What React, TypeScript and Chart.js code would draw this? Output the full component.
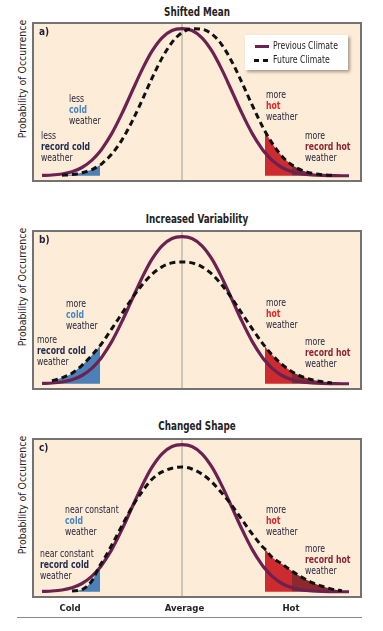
import React, { useEffect, useRef } from 'react';
import { Chart, registerables } from 'chart.js';

Chart.register(...registerables);

// ---------- data (x: temperature offset from the average; y: relative probability) ----------
const xGrid = [-14, -13, -12, -11, -10, -9, -8.2, -8, -7, -6, -5, -4, -3, -2, -1, 0, 1, 2, 3, 4, 5, 6, 7, 8, 8.3, 9, 10, 11, 12, 13, 14, 15, 16, 16.7];

const previousClimate = [0.002, 0.005, 0.012, 0.027, 0.056, 0.106, 0.165, 0.183, 0.29, 0.424, 0.573, 0.72, 0.847, 0.938, 0.988, 1.0, 0.988, 0.938, 0.847, 0.72, 0.573, 0.424, 0.29, 0.183, 0.157, 0.106, 0.056, 0.027, 0.012, 0.005, 0.002, 0.001, 0.0, 0.0];

const futureShiftedMean = [null, null, 0.003, 0.008, 0.02, 0.042, 0.073, 0.083, 0.149, 0.244, 0.368, 0.512, 0.663, 0.8, 0.907, 0.973, 0.999, 0.996, 0.963, 0.889, 0.774, 0.633, 0.483, 0.341, 0.303, 0.223, 0.133, 0.073, 0.037, 0.017, 0.007, 0.003, null, null];

const futureIncreasedVariability = [null, 0.02, 0.04, 0.072, 0.125, 0.195, 0.258, 0.276, 0.376, 0.478, 0.58, 0.671, 0.745, 0.795, 0.822, 0.828, 0.822, 0.795, 0.745, 0.671, 0.58, 0.478, 0.376, 0.28, 0.254, 0.197, 0.131, 0.082, 0.049, 0.027, 0.014, 0.005, null, null];

const futureChangedShape = [null, null, null, 0.005, 0.015, 0.075, 0.18, 0.2, 0.32, 0.45, 0.575, 0.68, 0.765, 0.815, 0.84, 0.848, 0.835, 0.8, 0.745, 0.67, 0.586, 0.49, 0.395, 0.31, 0.29, 0.235, 0.189, 0.14, 0.098, 0.062, 0.037, 0.018, 0.006, null];

const futureSeries = [futureShiftedMean, futureIncreasedVariability, futureChangedShape];

const axisCategories = ['Cold', 'Average', 'Hot'];
const axisCategoryValues = [-11.2, 0.25, 10.9];

const panelTitles = ['Shifted Mean', 'Increased Variability', 'Changed Shape'];
const panelLetters = ['a)', 'b)', 'c)'];
const seriesLabels = ['Previous Climate', 'Future Climate'];
const coldQualifiers = ['less', 'more', 'near constant'];
const hotQualifiers = ['more', 'more', 'more'];

const coldEdge = -8.2;
const hotEdge = 8.3;
const recordHotEdge = 11;

// ---------- styles ----------
const FONT = "'Liberation Sans Narrow', 'Arial Narrow', 'DejaVu Sans Condensed', Roboto, sans-serif";
const INK = '#1f1f36';
const PURPLE = '#6c2150';
const BLUE = '#4b80b8';
const RED = '#cc2b30';
const DARK_RED = '#8a2a2e';
const HOT_TXT = '#d6282d';
const REC_HOT_TXT = '#8c2434';
const COLD_TXT = '#4a86c3';
const REC_COLD_TXT = '#1e2a50';
const BG = '#fdecd7';
const SQUEEZE = 'scaleX(0.86)';

const CANVAS_LEFT = 34;
const CANVAS_W = 326;
const PLOT_H = 156;
const AXIS_H = 22;

const layouts = [
  { boxTop: 22, titleY: 11.7, cold: [68.7, 99], recCold: [41.3, 136.3], hot: [266, 94.7], recHot: [305.3, 135.7] },
  { boxTop: 230, titleY: 219, cold: [66.3, 303.7], recCold: [37, 340.3], hot: [266, 303.3], recHot: [305.3, 342] },
  { boxTop: 438, titleY: 425.7, cold: [65.3, 510.3], recCold: [40.3, 553.7], hot: [266, 509.7], recHot: [305.3, 548.7] },
];

type Line = [string, string, boolean];

function Note({ x, y, lines }: { x: number; y: number; lines: Line[] }) {
  return (
    <div
      style={{
        position: 'absolute', left: x, top: y - 6, font: `10px/11px ${FONT}`, color: INK,
        whiteSpace: 'nowrap', transform: SQUEEZE, transformOrigin: '0 0',
      }}
    >
      {lines.map(([t, c, b], i) => (
        <div key={i} style={{ color: c, fontWeight: b ? 'bold' : 'normal' }}>{t}</div>
      ))}
    </div>
  );
}

function PanelChart({ idx, top }: { idx: number; top: number }) {
  const ref = useRef<HTMLCanvasElement>(null);
  const showAxis = idx === 2;
  useEffect(() => {
    const future = futureSeries[idx];
    const pts = (ys: (number | null)[]) => xGrid.map((x, i) => ({ x, y: ys[i] }));
    const sub = (ys: (number | null)[], lo: number, hi: number) =>
      xGrid.map((x, i) => ({ x, y: x >= lo && x <= hi ? ys[i] : null }));
    const fillDs = (data: any, color: string, order: number) => ({
      data,
      borderColor: 'transparent',
      borderWidth: 0,
      backgroundColor: color,
      fill: 'origin',
      pointRadius: 0,
      cubicInterpolationMode: 'monotone',
      order,
    });
    const xScale: any = {
      type: 'linear',
      min: -14.8,
      max: 17.8,
      display: showAxis,
      grid: { display: false, drawTicks: false },
      border: { display: false },
      ticks: {
        autoSkip: false,
        maxRotation: 0,
        minRotation: 0,
        padding: 7,
        color: '#222',
        font: { family: FONT, size: 9.5, weight: 'bold' },
        callback: (_v: any, i: number) => axisCategories[i],
      },
    };
    if (showAxis) {
      xScale.afterBuildTicks = (s: any) => {
        s.ticks = axisCategoryValues.map((v) => ({ value: v }));
      };
      xScale.afterFit = (s: any) => {
        s.height = AXIS_H;
      };
    }
    const chart = new Chart(ref.current as HTMLCanvasElement, {
      type: 'line',
      data: {
        datasets: [
          {
            label: seriesLabels[1],
            data: pts(future),
            borderColor: '#111',
            borderWidth: 3,
            borderDash: [6, 4],
            pointRadius: 0,
            fill: false,
            cubicInterpolationMode: 'monotone',
            order: 1,
          },
          {
            label: seriesLabels[0],
            data: pts(previousClimate),
            borderColor: PURPLE,
            borderWidth: 3.2,
            pointRadius: 0,
            fill: false,
            cubicInterpolationMode: 'monotone',
            order: 2,
          },
          fillDs(sub(future, -100, coldEdge), BLUE, 3),
          fillDs(sub(future, hotEdge, recordHotEdge), RED, 4),
          fillDs(sub(future, recordHotEdge, 100), DARK_RED, 5),
          {
            data: [{ x: 0, y: -0.1 }, { x: 0, y: 1.1 }],
            borderColor: '#9d9d9d',
            borderWidth: 1,
            pointRadius: 0,
            fill: false,
            order: 6,
          },
        ] as any,
      },
      options: {
        responsive: false,
        maintainAspectRatio: false,
        animation: false,
        events: [],
        layout: { padding: 0 },
        plugins: { legend: { display: false }, tooltip: { enabled: false }, title: { display: false } },
        scales: {
          x: xScale,
          y: { type: 'linear', min: -0.029, max: 1.032, display: false },
        },
      } as any,
    });
    return () => chart.destroy();
  }, [idx]);
  return (
    <canvas
      ref={ref}
      width={CANVAS_W}
      height={PLOT_H + (showAxis ? AXIS_H : 0)}
      style={{ position: 'absolute', left: CANVAS_LEFT, top, display: 'block' }}
    />
  );
}

function Panel({ idx }: { idx: number }) {
  const L = layouts[idx];
  const inner = L.boxTop + 2;
  return (
    <>
      <div
        style={{
          position: 'absolute', left: 32, top: L.boxTop, width: 330, height: 160,
          boxSizing: 'border-box', border: '2px solid #727272', background: BG,
        }}
      />
      <PanelChart idx={idx} top={inner} />
      <div
        style={{
          position: 'absolute', left: 32, width: 330, top: L.titleY - 7, textAlign: 'center',
          font: `bold 11.5px/14px ${FONT}`, color: '#222', transform: 'scaleX(0.85)', transformOrigin: '50% 0',
        }}
      >
        {panelTitles[idx]}
      </div>
      <div
        style={{
          position: 'absolute', left: 16.7, top: inner + 55 + 76, width: 160, textAlign: 'center',
          transform: 'rotate(-90deg) scaleX(0.95)', transformOrigin: '0 0', font: `11px/12px ${FONT}`, color: '#222',
          whiteSpace: 'nowrap',
        }}
      >
        Probability of Occurrence
      </div>
      <div style={{ position: 'absolute', left: 39, top: inner + 2, font: `bold 10px/12px ${FONT}`, color: INK }}>
        {panelLetters[idx]}
      </div>
      <Note x={L.cold[0]} y={L.cold[1]} lines={[[coldQualifiers[idx], INK, false], ['cold', COLD_TXT, true], ['weather', INK, false]]} />
      <Note x={L.recCold[0]} y={L.recCold[1]} lines={[[coldQualifiers[idx], INK, false], ['record cold', REC_COLD_TXT, true], ['weather', INK, false]]} />
      <Note x={L.hot[0]} y={L.hot[1]} lines={[[hotQualifiers[idx], INK, false], ['hot', HOT_TXT, true], ['weather', INK, false]]} />
      <Note x={L.recHot[0]} y={L.recHot[1]} lines={[[hotQualifiers[idx], INK, false], ['record hot', REC_HOT_TXT, true], ['weather', INK, false]]} />
    </>
  );
}

function Legend() {
  const txt: any = {
    position: 'absolute', left: 273, font: `10px/12px ${FONT}`, color: '#222', whiteSpace: 'nowrap',
    transform: SQUEEZE, transformOrigin: '0 0',
  };
  return (
    <>
      <div style={{ position: 'absolute', left: 245, top: 35, width: 103, height: 35, background: '#fff', boxShadow: '2px 2px 3px rgba(0,0,0,0.35)' }} />
      <div style={{ position: 'absolute', left: 255, top: 44.5, width: 14, height: 3, background: PURPLE }} />
      <div style={{ position: 'absolute', left: 254, top: 58.5, width: 5, height: 3, background: '#111' }} />
      <div style={{ position: 'absolute', left: 262.5, top: 58.5, width: 5, height: 3, background: '#111' }} />
      <div style={{ ...txt, top: 39.5 }}>{seriesLabels[0]}</div>
      <div style={{ ...txt, top: 53.5 }}>{seriesLabels[1]}</div>
    </>
  );
}

export default function App() {
  return (
    <div style={{ position: 'absolute', left: 0, top: 0, width: 383, height: 631, background: '#fff', overflow: 'hidden' }}>
      <Panel idx={0} />
      <Panel idx={1} />
      <Panel idx={2} />
      <Legend />
      <div style={{ position: 'absolute', left: 17, top: 617, width: 345, height: 1, background: '#8a8a8a' }} />
    </div>
  );
}
